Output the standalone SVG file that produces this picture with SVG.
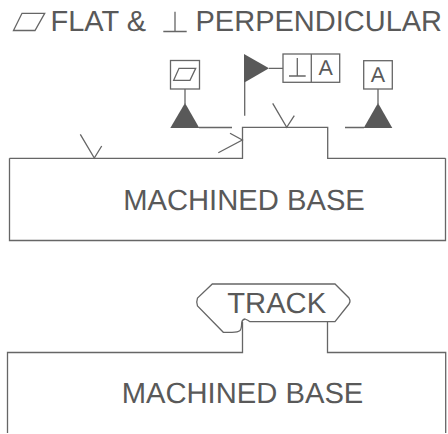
<svg xmlns="http://www.w3.org/2000/svg" width="448" height="434" viewBox="0 0 448 434">
<style>
.l{fill:none;stroke:#666;stroke-width:1.3;stroke-linejoin:miter}
.f{fill:#595959;stroke:none}
text{font-family:"Liberation Sans",Arial,sans-serif;fill:#595959;text-rendering:geometricPrecision}
.t{font-size:29px}
.m{font-size:29.200px;text-anchor:middle}
</style>
<rect width="448" height="434" fill="#fff"/>
<g id="title">
<path class="l" d="M13.500 30.500 L22 13.300 L44.700 13.300 L35 30.500 Z"/>
<text class="t" x="50.500" y="30.700">FLAT &amp;</text>
<path class="l" d="M163.300 31.500 H186.700 M175 11.700 V31.500"/>
<text class="t" x="195.500" y="30.700">PERPENDICULAR</text>
</g>
<g id="flat-frame">
<rect class="l" x="170.500" y="60.500" width="29" height="28.500"/>
<path class="l" d="M173.700 80.300 L179 68.300 L195.700 68.300 L190 80.300 Z"/>
</g>
<g id="datum-left">
<path class="f" d="M185 103 L199.300 128 H170.300 Z"/>
<path class="l" d="M185 89 V104 M199 127.500 H232"/>
</g>
<g id="perp-frame">
<rect class="l" x="283" y="54" width="56.700" height="28.300"/>
<path class="l" d="M311.300 54 V82.300 M289 76 H305.700 M297.300 58 V76"/>
<text x="325.700" y="75" text-anchor="middle" style="font-size:21.500px">A</text>
</g>
<g id="flag">
<path class="f" d="M244 54 L269 68.300 L244 82.700 Z"/>
<path class="l" d="M244.700 82 V115.700 M269 68.300 H283"/>
</g>
<g id="datum-a">
<rect class="l" x="363.700" y="60.700" width="28.600" height="28.300"/>
<text x="378" y="81.700" text-anchor="middle" style="font-size:21.500px">A</text>
<path class="f" d="M378 103 L392.300 128 H363.700 Z"/>
<path class="l" d="M378 89 V104 M345 127.500 H364"/>
</g>
<g id="connectors">
<path class="l" d="M9.500 158.300 H242.500 V127.400 H327.700 V158.300 H445.500"/>
<path class="l" d="M80.300 134.300 L94.300 158 L101.700 146"/>
<path class="l" d="M272.700 103.300 L286.700 127.300 L294.300 115.700"/>
<path class="l" d="M218.300 152.700 L242.300 140 L230 133.300"/>
<path class="l" d="M242.500 322 V352.500 H7.500 V433 M327.500 322 V352.500 H445.700 V433"/>
</g>
<g id="base-top">
<path class="l" d="M9.500 158.300 V240.500 H445.500 V158.300"/>
<text class="m" x="244" y="209.500">MACHINED BASE</text>
</g>
<g id="track">
<path class="l" d="M212.300 284 H335 L349 298 Q351 301 349 304 L335 321.700 H250 Q248 320 245 319 Q242 319.500 241.700 323 Q241.500 329 240 330.500 Q238 332.300 232 332.300 H223.300 L197.500 306 Q196 302 197.500 298 Z"/>
<text class="m" x="276.700" y="312.700">TRACK</text>
</g>
<g id="base-bottom">
<text class="m" x="242.500" y="402.700">MACHINED BASE</text>
</g>
</svg>
